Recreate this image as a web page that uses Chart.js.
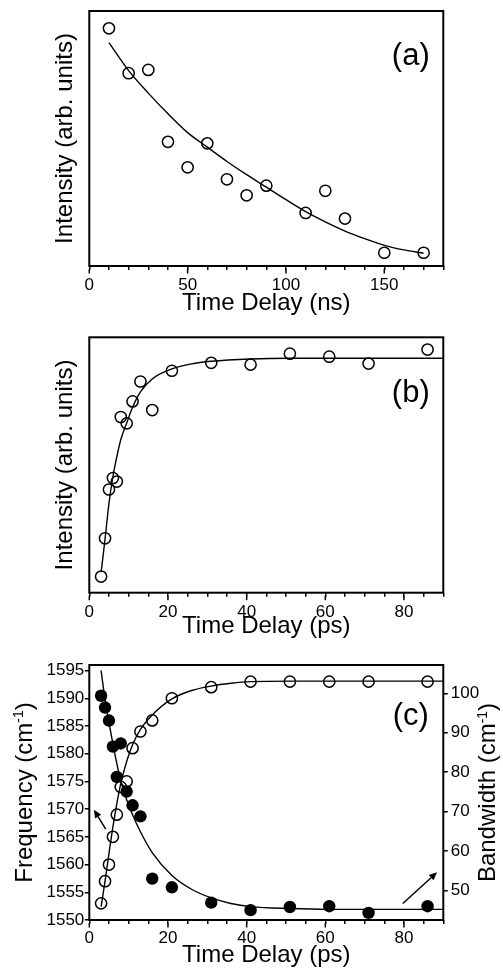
<!DOCTYPE html>
<html>
<head>
<meta charset="utf-8">
<script src="https://cdn.jsdelivr.net/npm/chart.js@4.4.0/dist/chart.umd.min.js"></script>
<style>
  html, body { margin: 0; padding: 0; background: #fff; }
  body { width: 503px; height: 968px; position: relative; overflow: hidden; }
  canvas { position: absolute; left: 0; }
</style>
</head>
<body>
<canvas id="chartA" width="503" height="320" style="top:0px"></canvas>
<canvas id="chartB" width="503" height="325" style="top:320px"></canvas>
<canvas id="chartC" width="503" height="323" style="top:645px"></canvas>
<script>
// ---- Panel (a): intensity decay, time in ns ----
const aTime = [10, 20, 30, 40, 50, 60, 70, 80, 90, 110, 120, 130, 150, 170];
const aIntensity = [93.2, 75.6, 76.9, 48.7, 38.7, 48.1, 34.0, 27.7, 31.5, 20.8, 29.5, 18.6, 5.2, 5.2];
const aFitTime = [10, 20, 30, 40, 50, 60, 70, 80, 90, 100, 110, 120, 130, 140, 150, 160, 170];
const aFit = [87.6, 76.6, 67.8, 59.7, 52.3, 46.6, 41.0, 35.8, 30.9, 26.0, 21.3, 17.3, 13.7, 10.7, 8.1, 6.3, 5.0];

// ---- Panel (b): intensity rise, time in ps ----
const bTime = [3, 4, 5, 6, 7, 8, 9.5, 11, 13, 16, 21, 31, 41, 51, 61, 71, 86];
const bIntensity = [6.3, 21.3, 40.4, 44.9, 43.5, 68.8, 66.3, 74.9, 82.7, 71.5, 86.9, 90.0, 89.3, 93.6, 92.4, 89.7, 95.2];
const bFitTime = [3, 4, 5, 6, 7, 8, 9.5, 11, 13, 16, 21, 26, 31, 41, 51, 61, 71, 90];
const bFit = [8.0, 21.0, 35.0, 45.4, 53.3, 59.9, 66.4, 72.6, 78.6, 83.7, 87.6, 89.6, 90.6, 91.5, 91.8, 91.8, 91.8, 91.8];

// ---- Panel (c): frequency (open, left axis) and bandwidth (filled, right axis) ----
const cTime = [3, 4, 5, 6, 7, 8, 9.5, 11, 13, 16, 21, 31, 41, 51, 61, 71, 86];
const cFrequency = [1553, 1557, 1560, 1565, 1569, 1574, 1575, 1581, 1584, 1586, 1590, 1592, 1593, 1593, 1593, 1593, 1593];
const cBandwidth = [99.4, 96.4, 93.1, 86.5, 78.8, 87.3, 75.1, 71.6, 68.8, 53.0, 50.8, 46.9, 45.0, 45.8, 46.0, 44.3, 46.0];
const cFreqFitTime = [3, 4, 5, 6, 7, 8, 9.5, 11, 13, 16, 21, 26, 31, 36, 41, 51, 61, 90];
const cFreqFit = [1552.4, 1557.0, 1562.0, 1566.8, 1571.0, 1574.6, 1578.6, 1581.6, 1584.4, 1587.0, 1589.9, 1591.4, 1592.2, 1592.7, 1593.0, 1593.1, 1593.1, 1593.1];
const cBwFitTime = [3, 4, 5, 6, 7, 8, 9.5, 11, 13, 16, 21, 26, 31, 36, 41, 51, 61, 90];
const cBwFit = [105.8, 98.5, 92.6, 87.2, 82.2, 77.8, 73.0, 69.2, 64.9, 59.6, 53.8, 50.3, 48.1, 46.7, 45.9, 45.4, 45.2, 45.2];

// arrows pointing at the axis each series belongs to: [tail, head]
const freqArrow = [[4.17, 1566.4], [1.19, 1569.9]];
const bwArrow = [[79.7, 46.7], [88.4, 54.6]];

// tick labels
const aXTicks = [0, 50, 100, 150];
const psXTicks = [0, 20, 40, 60, 80];
const freqTicks = [1550, 1555, 1560, 1565, 1570, 1575, 1580, 1585, 1590, 1595];
const bwTicks = [50, 60, 70, 80, 90, 100];

const FONT = '"Liberation Sans", Arial, Helvetica, sans-serif';
Chart.defaults.font.family = FONT;
Chart.defaults.color = '#000';

const PLOT_LEFT = 89.3;
const RIGHT_GAP = 503 - 443.3;
const TITLE_SIZE = 24;

function toXY(xs, ys) {
    return xs.map((x, i) => ({ x: x, y: ys[i] }));
}

function openPoints(xs, ys, axis) {
    return {
        data: toXY(xs, ys), yAxisID: axis, showLine: false,
        pointRadius: 5.6, pointBorderWidth: 1.5, pointStyle: 'circle',
        pointBorderColor: '#000', pointBackgroundColor: 'rgba(0,0,0,0)'
    };
}

function filledPoints(xs, ys, axis) {
    return {
        data: toXY(xs, ys), yAxisID: axis, showLine: false,
        pointRadius: 6.2, pointBorderWidth: 0,
        pointBorderColor: '#000', pointBackgroundColor: '#000'
    };
}

function fitLine(xs, ys, axis) {
    return {
        data: toXY(xs, ys), yAxisID: axis, showLine: true,
        borderColor: '#000', borderWidth: 1.4, pointRadius: 0,
        cubicInterpolationMode: 'monotone'
    };
}

function timeAxis(max, step, labels, title, axisHeight, labelPad, titlePad) {
    return {
        type: 'linear', position: 'bottom', min: 0, max: max,
        grid: { display: true, drawOnChartArea: false, drawTicks: true, tickLength: 4, color: '#000', lineWidth: 1.5 },
        border: { display: false },
        ticks: {
            stepSize: step, autoSkip: false, maxRotation: 0, minRotation: 0,
            padding: labelPad, color: '#000', font: { size: 17, lineHeight: 1 },
            callback: v => labels.includes(v) ? String(v) : ''
        },
        title: { display: true, text: title, color: '#000', font: { size: TITLE_SIZE, lineHeight: 1 }, padding: { top: 0, bottom: titlePad } },
        afterFit: s => { s.height = axisHeight; }
    };
}

function intensityAxis() {
    return {
        type: 'linear', position: 'left', min: 0, max: 100,
        grid: { display: false }, border: { display: false },
        ticks: { display: false },
        title: { display: true, text: 'Intensity (arb. units)', color: '#000', font: { size: TITLE_SIZE, lineHeight: 1 }, padding: { top: 53, bottom: 0 } },
        afterFit: s => { s.width = PLOT_LEFT; }
    };
}

// rotated title with a superscript, reading bottom to top
function drawSideTitle(ctx, cx, cy, main, sup, tail) {
    const size = TITLE_SIZE;
    ctx.save();
    ctx.translate(cx, cy);
    ctx.rotate(-Math.PI / 2);
    ctx.fillStyle = '#000';
    ctx.textAlign = 'left';
    ctx.textBaseline = 'alphabetic';
    ctx.font = size + 'px ' + FONT;
    const w1 = ctx.measureText(main).width;
    const w3 = ctx.measureText(tail).width;
    ctx.font = '14px ' + FONT;
    const w2 = ctx.measureText(sup).width;
    let x = -(w1 + w2 + w3) / 2;
    const base = 0.35 * size;
    ctx.font = size + 'px ' + FONT;
    ctx.fillText(main, x, base);
    x += w1;
    ctx.font = '14px ' + FONT;
    ctx.fillText(sup, x, base - 8.5);
    x += w2;
    ctx.font = size + 'px ' + FONT;
    ctx.fillText(tail, x, base);
    ctx.restore();
}

function drawArrow(ctx, x0, y0, x1, y1) {
    const ang = Math.atan2(y1 - y0, x1 - x0);
    const head = 8, half = 3.6;
    const bx = x1 - head * Math.cos(ang), by = y1 - head * Math.sin(ang);
    ctx.beginPath();
    ctx.moveTo(x0, y0);
    ctx.lineTo(bx, by);
    ctx.stroke();
    ctx.beginPath();
    ctx.moveTo(x1, y1);
    ctx.lineTo(bx + half * Math.sin(ang), by - half * Math.cos(ang));
    ctx.lineTo(bx - half * Math.sin(ang), by + half * Math.cos(ang));
    ctx.closePath();
    ctx.fill();
}

// Frame box, longer major ticks, panel letter, arrows and custom side titles
const framePlugin = {
    id: 'frame',
    afterDraw(chart, args, opts) {
        const ctx = chart.ctx;
        const a = chart.chartArea;
        const xs = chart.scales.x;
        ctx.save();
        ctx.strokeStyle = '#000';
        ctx.fillStyle = '#000';

        ctx.lineWidth = 1.5;
        (opts.xMajor || []).forEach(v => {
            const px = xs.getPixelForValue(v);
            ctx.beginPath();
            ctx.moveTo(px, a.bottom + 3);
            ctx.lineTo(px, a.bottom + 7.5);
            ctx.stroke();
        });

        (opts.arrows || []).forEach(arr => {
            const ys = chart.scales[arr.axis];
            drawArrow(ctx,
                xs.getPixelForValue(arr.pts[0][0]), ys.getPixelForValue(arr.pts[0][1]),
                xs.getPixelForValue(arr.pts[1][0]), ys.getPixelForValue(arr.pts[1][1]));
        });

        ctx.lineWidth = 2;
        ctx.strokeRect(a.left, a.top, a.right - a.left, a.bottom - a.top);

        ctx.font = '31px ' + FONT;
        ctx.textAlign = 'center';
        ctx.textBaseline = 'alphabetic';
        ctx.fillText(opts.label, a.right - 32.5, a.top + opts.labelDy);
        ctx.restore();

        const midY = (a.top + a.bottom) / 2;
        (opts.sideTitles || []).forEach(t => {
            drawSideTitle(ctx, t.x, midY, t.main, t.sup, ')');
        });
    }
};

function baseOptions(padTop, padRight, frame, scales) {
    return {
        responsive: false,
        animation: false,
        events: [],
        layout: { padding: { left: 0, right: padRight, top: padTop, bottom: 0 } },
        plugins: { legend: { display: false }, tooltip: { enabled: false }, frame: frame },
        scales: scales
    };
}

// Panel (a)
new Chart(document.getElementById('chartA'), {
    type: 'scatter',
    data: { datasets: [openPoints(aTime, aIntensity, 'y'), fitLine(aFitTime, aFit, 'y')] },
    options: baseOptions(11, RIGHT_GAP, { label: '(a)', labelDy: 54.2, xMajor: aXTicks }, {
        x: timeAxis(180, 10, aXTicks, 'Time Delay (ns)', 54, 7.2, 4.7),
        y: intensityAxis()
    }),
    plugins: [framePlugin]
});

// Panel (b)
new Chart(document.getElementById('chartB'), {
    type: 'scatter',
    data: { datasets: [openPoints(bTime, bIntensity, 'y'), fitLine(bFitTime, bFit, 'y')] },
    options: baseOptions(17.3, RIGHT_GAP, { label: '(b)', labelDy: 64.5, xMajor: psXTicks }, {
        x: timeAxis(90, 5, psXTicks, 'Time Delay (ps)', 52.3, 7.0, 7.1),
        y: intensityAxis()
    }),
    plugins: [framePlugin]
});

// Panel (c)
new Chart(document.getElementById('chartC'), {
    type: 'scatter',
    data: {
        datasets: [
            filledPoints(cTime, cBandwidth, 'y1'),
            openPoints(cTime, cFrequency, 'y'),
            fitLine(cBwFitTime, cBwFit, 'y1'),
            fitLine(cFreqFitTime, cFreqFit, 'y')
        ]
    },
    options: baseOptions(20, 0, {
        label: '(c)', labelDy: 60.2, xMajor: psXTicks,
        arrows: [{ axis: 'y', pts: freqArrow }, { axis: 'y1', pts: bwArrow }],
        sideTitles: [
            { x: 23.1, main: 'Frequency (cm', sup: '-1' },
            { x: 486.6, main: 'Bandwidth (cm', sup: '-1' }
        ]
    }, {
        x: timeAxis(90, 5, psXTicks, 'Time Delay (ps)', 48, 5.8, 0.6),
        y: {
            type: 'linear', position: 'left', min: 1550, max: 1596,
            grid: { display: true, drawOnChartArea: false, drawTicks: true, tickLength: 4.5, color: '#000', lineWidth: 1.5 },
            border: { display: false },
            ticks: {
                stepSize: 5, autoSkip: false, includeBounds: false, padding: 0.5,
                color: '#000', font: { size: 17, lineHeight: 1 },
                callback: v => freqTicks.includes(v) ? String(v) : ''
            },
            title: { display: false },
            afterFit: s => { s.width = PLOT_LEFT; }
        },
        y1: {
            type: 'linear', position: 'right', min: 42.5, max: 107.2,
            grid: { display: true, drawOnChartArea: false, drawTicks: true, tickLength: 4.5, color: '#000', lineWidth: 1.5 },
            border: { display: false },
            ticks: {
                stepSize: 10, autoSkip: false, includeBounds: false, padding: 3,
                color: '#000', font: { size: 17, lineHeight: 1 },
                callback: v => bwTicks.includes(v) ? String(v) : ''
            },
            title: { display: false },
            afterFit: s => { s.width = RIGHT_GAP; }
        }
    }),
    plugins: [framePlugin]
});
</script>
</body>
</html>
